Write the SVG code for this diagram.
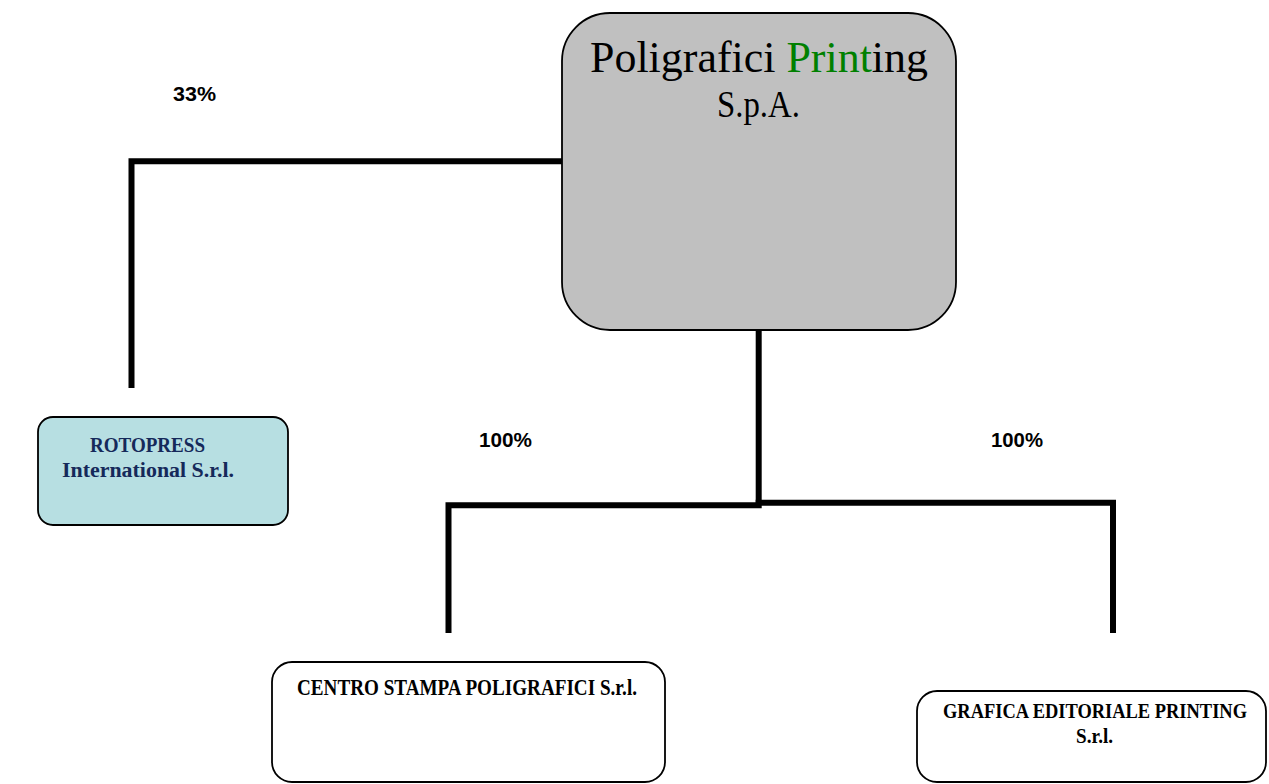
<svg xmlns="http://www.w3.org/2000/svg" width="1269" height="784" viewBox="0 0 1269 784">
<style>
.box{stroke:#000;stroke-width:1.8}
.conn{fill:none;stroke:#000;stroke-width:6;stroke-linejoin:miter;stroke-linecap:butt}
.pct{font-family:"Liberation Sans",Arial,sans-serif;font-weight:bold;font-size:20px;fill:#000}
.lbl{font-family:"Liberation Serif","Times New Roman",serif;font-weight:bold;fill:#000}
.main{font-family:"Liberation Serif","Times New Roman",serif;fill:#000}
</style>
<rect width="1269" height="784" fill="#fff"/>
<g id="connectors">
<path class="conn" d="M562,161.3 H131.5 V388"/>
<path class="conn" d="M758.7,330 V503"/>
<path class="conn" d="M761.7,505.3 H448.5 V633"/>
<path class="conn" d="M755.7,502.8 H1113 V633"/>
</g>
<g id="node-main">
<rect class="box" x="562" y="13" width="394" height="317" rx="48" ry="48" fill="#c0c0c0"/>
<text class="main" x="590" y="72" font-size="45" textLength="338" lengthAdjust="spacingAndGlyphs">Poligrafici <tspan fill="#008000">Print</tspan>ing</text>
<text class="main" x="717" y="117" font-size="37" textLength="83" lengthAdjust="spacingAndGlyphs">S.p.A.</text>
</g>
<g id="node-rotopress">
<rect class="box" x="38" y="417" width="250" height="108" rx="15" ry="15" fill="#b7dfe2"/>
<text class="lbl" x="90" y="452" font-size="20" style="fill:#15295a" textLength="115" lengthAdjust="spacingAndGlyphs">ROTOPRESS</text>
<text class="lbl" x="62" y="477" font-size="20" style="fill:#15295a" textLength="172" lengthAdjust="spacingAndGlyphs">International S.r.l.</text>
</g>
<g id="node-centro">
<rect class="box" x="272" y="662" width="393" height="120" rx="20" ry="20" fill="#fff"/>
<text class="lbl" x="297" y="695" font-size="23" textLength="340" lengthAdjust="spacingAndGlyphs">CENTRO STAMPA POLIGRAFICI S.r.l.</text>
</g>
<g id="node-grafica">
<rect class="box" x="917" y="691" width="349" height="91" rx="20" ry="20" fill="#fff"/>
<text class="lbl" x="943" y="718" font-size="22" textLength="304" lengthAdjust="spacingAndGlyphs">GRAFICA EDITORIALE PRINTING</text>
<text class="lbl" x="1076" y="743" font-size="22" textLength="37" lengthAdjust="spacingAndGlyphs">S.r.l.</text>
</g>
<g id="labels">
<text class="pct" x="173" y="101" textLength="43" lengthAdjust="spacingAndGlyphs">33%</text>
<text class="pct" x="479" y="447" textLength="53" lengthAdjust="spacingAndGlyphs">100%</text>
<text class="pct" x="991" y="447" textLength="52" lengthAdjust="spacingAndGlyphs">100%</text>
</g>
</svg>
